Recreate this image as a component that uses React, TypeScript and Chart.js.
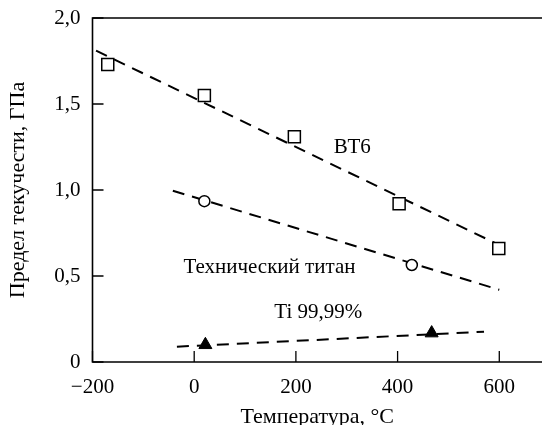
import React, { useEffect, useRef } from "react";
import { Chart, registerables } from "chart.js";

Chart.register(...registerables);

// ---- Data ----
const xTicks = [-200, 0, 200, 400, 600];
const yTicks = [0, 0.5, 1.0, 1.5, 2.0];

// ВТ6 (open squares)
const vt6X = [-170, 20, 197, 403, 599];
const vt6Y = [1.73, 1.55, 1.31, 0.92, 0.66];
const vt6FitX = [-193, 600];
const vt6FitY = [1.81, 0.68];

// Технический титан (open circles)
const techX = [20, 428];
const techY = [0.935, 0.564];
const techFitX = [-42, 600];
const techFitY = [0.996, 0.42];

// Ti 99,99% (filled triangles)
const tiX = [22, 467];
const tiY = [0.1, 0.168];
const tiFitX = [-34, 570];
const tiFitY = [0.089, 0.176];

// Curve labels
const labelTexts = ["ВТ6", "Технический титан", "Ti 99,99%"];
const labelX = [311, 148, 244];
const labelY = [1.25, 0.55, 0.285];

const xTitle = "Температура, °C";
const yTitle = "Предел текучести, ГПа";

const FONT = '"Liberation Serif", "Times New Roman", serif';

const toPts = (xs: number[], ys: number[]) => xs.map((x, i) => ({ x, y: ys[i] }));

export default function App() {
  const ref = useRef<HTMLCanvasElement | null>(null);

  useEffect(() => {
    if (!ref.current) return;

    const framePlugin = {
      id: "frame",
      afterLayout(chart: any) {
        // let the plot area run to the right edge of the canvas
        const ca = chart.chartArea;
        const xs = chart.scales.x;
        ca.right = chart.width;
        ca.width = ca.right - ca.left;
        xs.right = chart.width;
        xs.width = xs.right - xs.left;
        xs.configure();
      },
      afterDatasetsDraw(chart: any) {
        const { ctx, chartArea, scales } = chart;
        const { left, top, bottom } = chartArea;
        ctx.save();
        ctx.strokeStyle = "#000";
        ctx.lineWidth = 1.6;
        ctx.beginPath();
        ctx.moveTo(chart.width, top);
        ctx.lineTo(left, top);
        ctx.lineTo(left, bottom);
        ctx.lineTo(chart.width, bottom);
        ctx.stroke();
        const tl = 11;
        ctx.lineWidth = 1.3;
        ctx.beginPath();
        xTicks.forEach((v) => {
          const px = scales.x.getPixelForValue(v);
          ctx.moveTo(px, bottom);
          ctx.lineTo(px, bottom - tl);
        });
        yTicks.forEach((v) => {
          const py = scales.y.getPixelForValue(v);
          ctx.moveTo(left, py);
          ctx.lineTo(left + tl, py);
        });
        ctx.stroke();
        // curve labels
        ctx.fillStyle = "#000";
        ctx.font = "21px " + FONT;
        ctx.textAlign = "center";
        ctx.textBaseline = "middle";
        labelTexts.forEach((t, i) => {
          ctx.fillText(t, scales.x.getPixelForValue(labelX[i]), scales.y.getPixelForValue(labelY[i]));
        });
        ctx.restore();
      },
    };

    const lineDs = (xs: number[], ys: number[]) => ({
      type: "line" as const,
      data: toPts(xs, ys),
      borderColor: "#000",
      borderWidth: 2,
      borderDash: [12, 8],
      pointRadius: 0,
      fill: false,
      showLine: true,
      order: 2,
    });

    const chart = new Chart(ref.current, {
      type: "scatter",
      data: {
        datasets: [
          lineDs(vt6FitX, vt6FitY),
          lineDs(techFitX, techFitY),
          lineDs(tiFitX, tiFitY),
          {
            data: toPts(vt6X, vt6Y),
            pointStyle: "rect",
            pointRadius: 8.5,
            backgroundColor: "#fff",
            borderColor: "#000",
            borderWidth: 1.5,
            order: 1,
          },
          {
            data: toPts(techX, techY),
            pointStyle: "circle",
            pointRadius: 5.5,
            backgroundColor: "#fff",
            borderColor: "#000",
            borderWidth: 1.5,
            order: 1,
          },
          {
            data: toPts(tiX, tiY),
            pointStyle: "triangle",
            pointRadius: 7.5,
            backgroundColor: "#000",
            borderColor: "#000",
            borderWidth: 1,
            order: 1,
          },
        ] as any,
      },
      options: {
        animation: false,
        responsive: false,
        events: [],
        layout: { padding: { top: 18, left: 0, right: 0, bottom: 0 } },
        plugins: { legend: { display: false }, tooltip: { enabled: false } },
        scales: {
          x: {
            type: "linear",
            min: -200,
            max: 684,
            grid: { display: false, drawTicks: false },
            border: { display: false },
            afterBuildTicks: (s: any) => {
              s.ticks = xTicks.map((v) => ({ value: v }));
            },
            afterFit: (s: any) => {
              s.height = 63;
              s.paddingLeft = 0;
              s.paddingRight = 0;
            },
            ticks: {
              color: "#000",
              padding: 13,
              maxRotation: 0,
              font: { family: FONT, size: 21 },
              callback: (v: any) => (v < 0 ? "\u2212" + Math.abs(v) : String(v)),
            },
            title: {
              display: true,
              text: xTitle,
              color: "#000",
              font: { family: FONT, size: 22, lineHeight: 1 },
              padding: { top: 0, bottom: -3.5 },
            },
          },
          y: {
            type: "linear",
            min: 0,
            max: 2,
            grid: { display: false, drawTicks: false },
            border: { display: false },
            afterBuildTicks: (s: any) => {
              s.ticks = yTicks.map((v) => ({ value: v }));
            },
            afterFit: (s: any) => {
              s.width = 92.5;
              s.paddingTop = 0;
              s.paddingBottom = 0;
            },
            ticks: {
              color: "#000",
              padding: 12,
              font: { family: FONT, size: 21 },
              callback: (v: any) => (v === 0 ? "0" : Number(v).toFixed(1).replace(".", ",")),
            },
            title: {
              display: true,
              text: yTitle,
              color: "#000",
              font: { family: FONT, size: 22, lineHeight: 1 },
              padding: { top: 7.5, bottom: 0 },
            },
          },
        },
      } as any,
      plugins: [framePlugin],
    });

    return () => chart.destroy();
  }, []);

  return (
    <div style={{ position: "absolute", left: 0, top: 0, width: 542, height: 425, background: "#fff" }}>
      <canvas ref={ref} width={542} height={425} style={{ display: "block" }} />
    </div>
  );
}
